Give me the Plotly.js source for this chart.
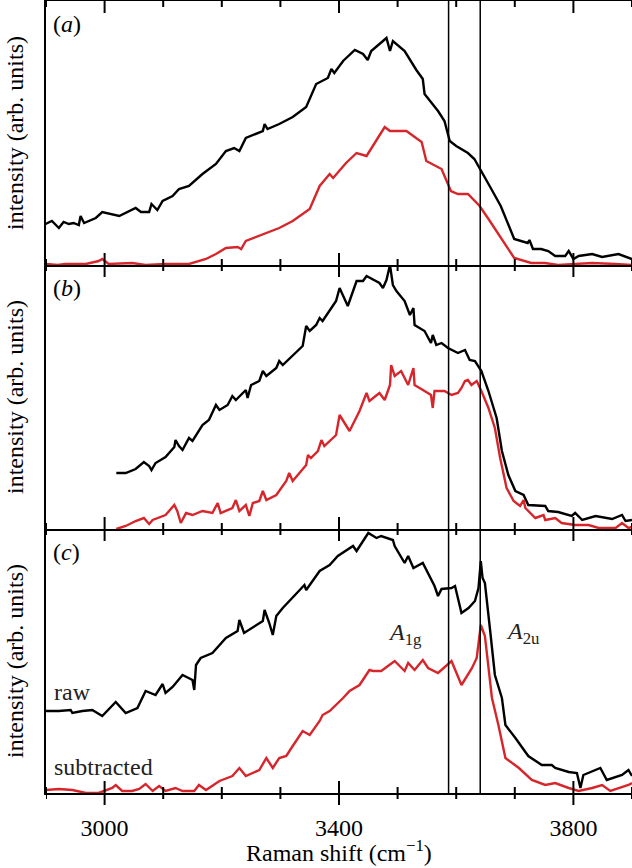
<!DOCTYPE html>
<html>
<head>
<meta charset="utf-8">
<script src="https://cdn.plot.ly/plotly-3.0.1.min.js"></script>
<style>html,body{margin:0;padding:0;background:#fff;}#chart{width:632px;height:868px;}</style>
</head>
<body>
<div id="chart"></div>
<script>
// ---------- data (Raman shift in cm^-1, intensity in arbitrary units) ----------
const aRawX = [2899,2910,2922,2930,2939,2947,2956,2959,2965,2985,2996,3025,3053,3062,3076,3080,3090,3099,3116,3127,3144,3167,3190,3207,3221,3230,3241,3270,3273,3278,3298,3321,3344,3361,3381,3387,3392,3407,3427,3441,3449,3455,3481,3487,3492,3512,3532,3543,3546,3569,3580,3589,3600,3620,3631,3642,3659,3676,3699,3722,3725,3731,3745,3757,3769,3786,3792,3800,3809,3832,3849,3877,3900];
const aRawY = [41,44,37,43,41,42,40,49,42,47,53,49,57,53,53,61,55,64,69,76,79,91,101,114,117,114,127,134,141,136,141,148,158,181,187,196,192,204,215,211,205,214,227,214,224,214,195,186,171,154,144,124,119,112,106,94,77,59,26,22,25,16,16,14,9,9,14,6,9,11,8,11,6];

const aSubX = [2899,2920,2933,2968,2990,2996,3007,3047,3070,3104,3144,3173,3190,3207,3227,3233,3241,3270,3298,3321,3350,3367,3384,3390,3412,3430,3447,3478,3487,3515,3541,3549,3575,3591,3603,3620,3640,3654,3676,3699,3728,3751,3774,3803,3832,3871,3900];
const aSubY = [1,0,1,1,4,6,1,2,0,1,1,6,11,17,18,16,24,31,37,44,56,79,91,87,102,112,109,138,134,134,123,104,96,74,71,71,59,47,27,7,2,2,0,1,2,1,0];

const bRawX = [3020,3036,3053,3067,3076,3080,3087,3104,3119,3121,3127,3133,3144,3150,3167,3178,3190,3196,3210,3218,3224,3241,3244,3250,3264,3270,3276,3293,3298,3304,3338,3344,3350,3361,3367,3372,3395,3401,3415,3430,3441,3447,3469,3475,3481,3487,3492,3498,3512,3521,3527,3529,3546,3557,3560,3566,3575,3586,3603,3615,3623,3632,3643,3655,3669,3678,3689,3701,3715,3723,3752,3757,3774,3797,3803,3815,3838,3866,3883,3889,3900];
const bRawY = [56,56,60,67,63,59,66,72,82,89,83,79,91,88,104,109,124,119,124,133,129,139,131,144,148,158,153,161,168,164,183,203,198,204,211,208,228,241,223,248,248,253,246,241,249,264,244,238,228,214,221,204,198,186,194,184,186,181,176,179,169,168,158,138,111,78,54,38,34,24,23,18,17,13,16,9,13,10,14,8,9];

const bSubX = [3020,3036,3053,3067,3076,3082,3104,3119,3124,3130,3139,3150,3167,3184,3193,3198,3218,3224,3230,3241,3247,3253,3264,3270,3276,3293,3310,3315,3321,3344,3347,3352,3364,3370,3375,3395,3401,3418,3435,3447,3452,3469,3478,3487,3489,3495,3506,3518,3527,3529,3546,3557,3560,3563,3580,3592,3603,3609,3615,3620,3626,3635,3643,3655,3666,3675,3686,3698,3709,3715,3718,3735,3749,3752,3769,3780,3803,3826,3843,3872,3883,3894,3900];
const bSubY = [0,3,8,11,5,9,14,24,18,6,16,14,18,16,26,16,21,29,18,24,13,26,28,38,29,34,48,56,48,64,74,71,78,89,83,94,114,98,118,136,128,136,129,144,164,153,158,144,161,144,138,134,121,138,138,134,136,141,148,149,144,148,138,121,101,71,41,28,23,29,21,11,14,9,11,6,4,4,1,1,6,1,2];

const cRawX = [2899,2922,2942,2945,2962,2979,2996,3019,3036,3056,3070,3087,3099,3104,3116,3133,3150,3153,3156,3164,3184,3207,3227,3230,3238,3270,3273,3281,3287,3293,3304,3321,3333,3341,3344,3367,3384,3398,3424,3430,3450,3464,3472,3492,3495,3512,3518,3527,3543,3563,3569,3575,3592,3598,3609,3621,3632,3638,3642,3645,3649,3658,3666,3678,3684,3701,3723,3746,3763,3769,3792,3806,3812,3817,3837,3846,3857,3883,3894,3900];
const cRawY = [82,82,83,80,82,83,77,91,80,85,102,98,109,100,106,118,113,103,128,135,140,155,162,173,160,172,183,170,158,177,185,195,203,208,203,222,228,237,247,242,260,255,257,253,247,230,237,225,230,207,197,204,205,207,180,185,192,205,232,215,210,162,118,95,68,55,37,28,28,25,21,20,5,18,23,25,13,18,23,17];

const cSubX = [2899,2922,2945,2968,2990,3013,3019,3030,3047,3059,3070,3082,3093,3104,3121,3133,3153,3161,3173,3196,3218,3230,3241,3264,3276,3287,3298,3310,3321,3338,3350,3367,3372,3384,3407,3418,3435,3452,3458,3472,3495,3512,3518,3529,3543,3552,3569,3592,3609,3627,3635,3642,3649,3655,3661,3672,3684,3707,3729,3752,3769,3792,3809,3832,3849,3863,3894,3900];
const cSubY = [3,4,3,0,0,5,8,2,2,4,9,2,7,2,5,2,2,8,3,12,17,25,17,23,35,25,35,37,47,62,58,72,78,82,95,102,108,123,122,122,132,122,130,123,133,125,120,132,108,125,135,168,157,128,95,68,35,25,13,8,10,5,2,5,8,2,8,10];

const modeLines = [3587, 3641];           // A1g and A2u positions
const xRange = [2900, 3900];
const xTickVals = [3000, 3400, 3800];
const xTickText = ['3000', '3400', '3800'];
const minorStep = 100;
const panelLabels = ['a', 'b', 'c'];
const xTitle = 'Raman shift (cm<sup>\u22121</sup>)';
const yTitle = 'intensity (arb. units)';

// ---------- styling ----------
const SERIF = 'Liberation Serif';
const BLACK = '#000000';
const RED = '#d7262b';
const LW = 2.4;
const PANEL_PX = 264;
const MAJOR_LEN = 12, MINOR_LEN = 6;

function line(x, y, xa, ya, color) {
  return {type: 'scatter', mode: 'lines', x: x, y: y, xaxis: xa, yaxis: ya,
          line: {color: color, width: LW, shape: 'linear'},
          hoverinfo: 'skip', showlegend: false};
}

const traces = [
  line(aRawX, aRawY, 'x', 'y', BLACK),
  line(aSubX, aSubY, 'x', 'y', RED),
  line(bRawX, bRawY, 'x2', 'y2', BLACK),
  line(bSubX, bSubY, 'x2', 'y2', RED),
  line(cRawX, cRawY, 'x3', 'y3', BLACK),
  line(cSubX, cSubY, 'x3', 'y3', RED)
];

function xax(anchor, labels, mirror) {
  return {
    anchor: anchor, range: xRange, fixedrange: true,
    tickmode: 'array', tickvals: xTickVals, ticktext: xTickText,
    ticks: '', showline: true, linewidth: 2, linecolor: BLACK, mirror: mirror,
    showgrid: false, zeroline: false, showticklabels: labels,
    ticklabelstandoff: 12,
    tickfont: {family: SERIF, size: 24, color: BLACK}
  };
}
function yax(domain, anchor) {
  return {domain: domain, anchor: anchor, range: [0, PANEL_PX], fixedrange: true,
          showline: true, linewidth: 2, linecolor: BLACK, ticks: '',
          showticklabels: false, showgrid: false, zeroline: false};
}

const W = 632, H = 868, ML = 46, MR = 0, MT = 1, MB = 75;
const PW = W - ML - MR, PH = H - MT - MB;
const px = v => (v - ML) / PW;
const py = v => (H - MB - v) / PH;

// ---------- tick marks (axis decoration, drawn as paper-referenced segments) ----------
const shapes = [];
const minorVals = [];
for (let t = xRange[0]; t <= xRange[1]; t += minorStep) if (!xTickVals.includes(t)) minorVals.push(t);
const panelTopPx = [MT, MT + PANEL_PX, MT + 2 * PANEL_PX];
panelTopPx.forEach((topPx, i) => {
  const botPx = topPx + PANEL_PX;
  const xs = 'x' + (i === 0 ? '' : (i + 1));
  const addTick = (t, len) => {
    shapes.push({type: 'line', xref: xs, yref: 'paper', x0: t, x1: t, y0: py(topPx), y1: py(topPx + len), line: {color: BLACK, width: 2}, layer: 'above'});
    shapes.push({type: 'line', xref: xs, yref: 'paper', x0: t, x1: t, y0: py(botPx), y1: py(botPx - len), line: {color: BLACK, width: 2}, layer: 'above'});
    if (i === 2) shapes.push({type: 'line', xref: xs, yref: 'paper', x0: t, x1: t, y0: py(botPx), y1: py(botPx + len), line: {color: BLACK, width: 2}, layer: 'above'});
  };
  xTickVals.forEach(t => addTick(t, MAJOR_LEN));
  minorVals.forEach(t => addTick(t, MINOR_LEN));
});
modeLines.forEach(v => shapes.push({type: 'line', xref: 'x3', yref: 'paper', x0: v, x1: v, y0: 0, y1: 1,
  line: {color: BLACK, width: 1.5}, layer: 'above'}));

// ---------- text ----------
const annotations = [];
const panelCenters = [133, 397, 661];
const labelY = [24, 288, 552];
panelLabels.forEach((lab, i) => {
  annotations.push({xref: 'paper', yref: 'paper', x: px(66.5), y: py(labelY[i]), xanchor: 'center', yanchor: 'middle',
    text: '(<i>' + lab + '</i>)', showarrow: false, font: {family: SERIF, size: 24, color: BLACK}});
  annotations.push({xref: 'paper', yref: 'paper', x: px(15), y: py(panelCenters[i]), xanchor: 'center', yanchor: 'middle',
    text: yTitle, textangle: -90, showarrow: false, font: {family: SERIF, size: 24, color: BLACK}});
});
annotations.push({xref: 'paper', yref: 'paper', x: px(339), y: py(851), xanchor: 'center', yanchor: 'middle',
  text: xTitle, showarrow: false, font: {family: SERIF, size: 24, color: BLACK}});
annotations.push({xref: 'paper', yref: 'paper', x: px(386), y: py(634), xanchor: 'left', yanchor: 'middle',
  text: '<i>A</i><sub>1g</sub>', showarrow: false, font: {family: SERIF, size: 24, color: '#222'}});
annotations.push({xref: 'paper', yref: 'paper', x: px(504), y: py(633), xanchor: 'left', yanchor: 'middle',
  text: '<i>A</i><sub>2u</sub>', showarrow: false, font: {family: SERIF, size: 24, color: '#222'}});
annotations.push({xref: 'paper', yref: 'paper', x: px(52), y: py(692), xanchor: 'left', yanchor: 'middle',
  text: 'raw', showarrow: false, font: {family: SERIF, size: 24, color: '#222'}});
annotations.push({xref: 'paper', yref: 'paper', x: px(52), y: py(767), xanchor: 'left', yanchor: 'middle',
  text: 'subtracted', showarrow: false, font: {family: SERIF, size: 24, color: '#222'}});

const layout = {
  width: W, height: H, margin: {l: ML, r: MR, t: MT, b: MB, pad: 0},
  paper_bgcolor: '#ffffff', plot_bgcolor: '#ffffff', showlegend: false,
  font: {family: SERIF, size: 24, color: BLACK},
  xaxis: xax('y', false, true), xaxis2: xax('y2', false, false), xaxis3: xax('y3', true, false),
  yaxis: yax([2/3, 1], 'x'), yaxis2: yax([1/3, 2/3], 'x2'), yaxis3: yax([0, 1/3], 'x3'),
  annotations: annotations, shapes: shapes
};

Plotly.newPlot('chart', traces, layout, {staticPlot: true, displayModeBar: false});
</script>
</body>
</html>
